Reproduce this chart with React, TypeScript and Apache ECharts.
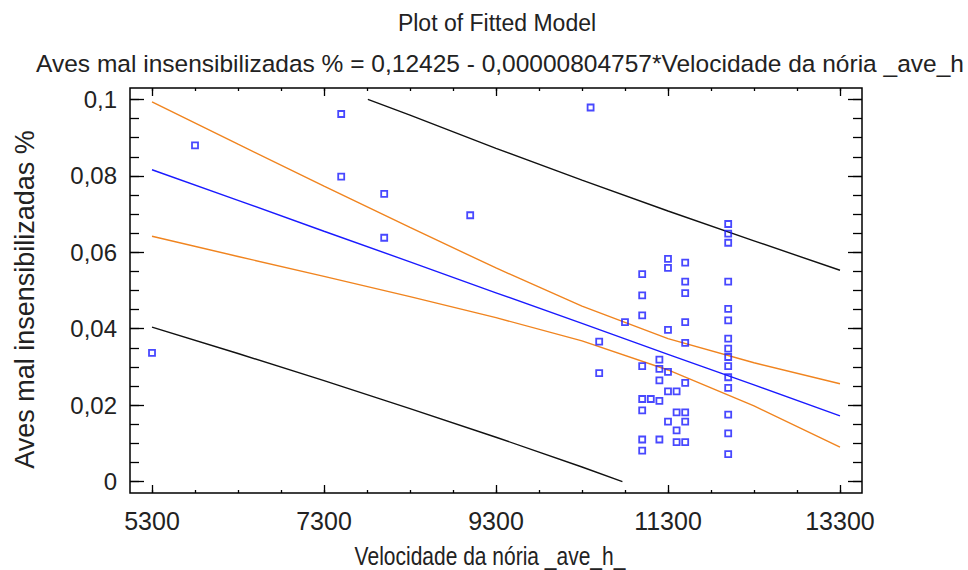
import React, { useEffect, useRef } from "react";
import * as echarts from "echarts";

// ---- Data ----
const xMajorTicks = [5300, 7300, 9300, 11300, 13300];
const xMinorTicks = [5300, 5800, 6300, 6800, 7300, 7800, 8300, 8800, 9300, 9800, 10300, 10800, 11300, 11800, 12300, 12800, 13300];
const yMajorTicks = [0, 0.02, 0.04, 0.06, 0.08, 0.1];
const yMinorTicks = [0, 0.005, 0.01, 0.015, 0.02, 0.025, 0.03, 0.035, 0.04, 0.045, 0.05, 0.055, 0.06, 0.065, 0.07, 0.075, 0.08, 0.085, 0.09, 0.095, 0.1];

// observations (Velocidade da nória, Aves mal insensibilizadas %)
const obsX = [
  5300, 5800, 7500, 7500, 8000, 8000, 9000, 10400, 10500, 10500, 10800,
  11000, 11000, 11000, 11000, 11000, 11000, 11000, 11000,
  11100,
  11200, 11200, 11200, 11200, 11200,
  11300, 11300, 11300, 11300, 11300, 11300,
  11400, 11400, 11400, 11400,
  11500, 11500, 11500, 11500, 11500, 11500, 11500, 11500, 11500,
  12000, 12000, 12000, 12000, 12000, 12000, 12000, 12000, 12000, 12000, 12000, 12000, 12000, 12000, 12000,
];
const obsY = [
  0.0337, 0.088, 0.0962, 0.0798, 0.0753, 0.0638, 0.0697, 0.0979, 0.0366, 0.0284, 0.0417,
  0.0543, 0.0487, 0.0435, 0.0302, 0.0216, 0.0186, 0.011, 0.0081,
  0.0216,
  0.0319, 0.0295, 0.0265, 0.0211, 0.011,
  0.0583, 0.0559, 0.0397, 0.0287, 0.0236, 0.0157,
  0.0236, 0.0181, 0.0134, 0.0103,
  0.0573, 0.0523, 0.0493, 0.0417, 0.0363, 0.0258, 0.0181, 0.0157, 0.0103,
  0.0674, 0.0649, 0.0625, 0.0523, 0.0452, 0.0422, 0.0374, 0.0348, 0.0326, 0.0302, 0.0273, 0.0245, 0.0175, 0.0126, 0.0072,
];

// fitted line and confidence limits
const bandX = [5300, 6300, 7300, 8300, 9300, 10300, 11300, 12300, 13300];
const fittedY = [0.0816, 0.0736, 0.0655, 0.0575, 0.0494, 0.0414, 0.0333, 0.0253, 0.0172];
const upperConfY = [0.0994, 0.0883, 0.0773, 0.0665, 0.0559, 0.0459, 0.0374, 0.0311, 0.0256];
const lowerConfY = [0.0642, 0.0589, 0.0537, 0.0484, 0.0429, 0.0368, 0.0292, 0.0198, 0.009];

// prediction limits
const upperPredX = [7810, 8300, 9300, 10300, 11300, 12300, 13300];
const upperPredY = [0.1, 0.0959, 0.0872, 0.0789, 0.0708, 0.063, 0.0553];
const lowerPredX = [5300, 6300, 7300, 8300, 9300, 10300, 10770];
const lowerPredY = [0.0404, 0.0335, 0.0264, 0.0191, 0.0116, 0.0038, 0.0];

const FONT = "'Liberation Sans', Arial, sans-serif";
const TEXT = "#222";

const pairs = (xs: number[], ys: number[]) => xs.map((x, i) => [x, ys[i]]);

export default function App() {
  const ref = useRef<HTMLDivElement>(null);
  useEffect(() => {
    if (!ref.current) return;
    const chart = echarts.init(ref.current, undefined, { renderer: "svg" });
    const xMin = 5044, xMax = 13556, yMin = -0.003, yMax = 0.103;
    const tickStyle = { color: "#000", width: 1.3 };
    const xBase = (position: "top" | "bottom", ticks: number[], len: number, labels: boolean) => ({
      type: "value" as const,
      position,
      min: xMin,
      max: xMax,
      axisLine: { show: false, onZero: false },
      splitLine: { show: false },
      axisTick: { show: true, inside: true, length: len, customValues: ticks, lineStyle: tickStyle },
      axisLabel: labels
        ? { show: true, customValues: ticks, fontFamily: FONT, fontSize: 25, color: TEXT, margin: 15, formatter: (v: number) => String(v) }
        : { show: false },
    });
    const yBase = (position: "left" | "right", ticks: number[], len: number, labels: boolean) => ({
      type: "value" as const,
      position,
      min: yMin,
      max: yMax,
      axisLine: { show: false, onZero: false },
      splitLine: { show: false },
      axisTick: { show: true, inside: true, length: len, customValues: ticks, lineStyle: tickStyle },
      axisLabel: labels
        ? {
            show: true,
            customValues: ticks,
            fontFamily: FONT,
            fontSize: 24,
            color: TEXT,
            margin: 13,
            formatter: (v: number) => (v === 0 ? "0" : String(v).replace(".", ",")),
          }
        : { show: false },
    });

    const xAxes: any[] = [
      xBase("bottom", xMajorTicks, 8, true),
      xBase("bottom", xMinorTicks, 3, false),
      xBase("top", xMajorTicks, 8, false),
      xBase("top", xMinorTicks, 3, false),
    ];
    const yAxes: any[] = [
      { ...yBase("left", yMajorTicks, 14, true), name: "Aves mal insensibilizadas %", nameLocation: "middle", nameGap: 92,
        nameTextStyle: { fontFamily: FONT, fontSize: 27, color: TEXT, padding: [0, 18, 0, 0] } },
      yBase("left", yMinorTicks, 9, false),
      yBase("right", yMajorTicks, 14, false),
      yBase("right", yMinorTicks, 9, false),
    ];

    chart.setOption({
      animation: false,
      backgroundColor: "#fff",
      title: [
        { text: "Plot of Fitted Model", left: 492, top: 6, textAlign: "center",
          textStyle: { fontFamily: FONT, fontSize: 23, fontWeight: "normal", color: TEXT } },
        { text: "Aves mal insensibilizadas % = 0,12425 - 0,00000804757*Velocidade da nória _ave_h", left: 495, top: 46, textAlign: "center",
          textStyle: { fontFamily: FONT, fontSize: 24.5, fontWeight: "normal", color: TEXT } },
      ],
      graphic: [
        {
          type: "text",
          x: 490,
          y: 556,
          scaleX: 0.84,
          style: {
            text: "Velocidade da nória _ave_h_",
            fontFamily: FONT,
            fontSize: 25,
            fill: TEXT,
            textAlign: "center",
            textVerticalAlign: "middle",
          },
        },
      ],
      grid: { left: 130, right: 106, top: 88, bottom: 77, show: true, borderColor: "#000", borderWidth: 1.5, backgroundColor: "#fff" },
      xAxis: xAxes,
      yAxis: yAxes,
      series: [
        { type: "line", data: pairs(upperPredX, upperPredY), showSymbol: false, lineStyle: { color: "#111", width: 1.4 }, z: 2 },
        { type: "line", data: pairs(lowerPredX, lowerPredY), showSymbol: false, lineStyle: { color: "#111", width: 1.4 }, z: 2 },
        { type: "line", data: pairs(bandX, upperConfY), showSymbol: false, lineStyle: { color: "#f0841f", width: 1.4 }, z: 2 },
        { type: "line", data: pairs(bandX, lowerConfY), showSymbol: false, lineStyle: { color: "#f0841f", width: 1.4 }, z: 2 },
        { type: "line", data: pairs(bandX, fittedY), showSymbol: false, lineStyle: { color: "#1a1aff", width: 1.4 }, z: 2 },
        {
          type: "scatter",
          data: pairs(obsX, obsY),
          symbol: "rect",
          symbolSize: [6, 6],
          itemStyle: { color: "rgba(255,255,255,0)", borderColor: "#1a1aff", borderWidth: 1.8 },
          z: 3,
        },
      ],
    });
    return () => chart.dispose();
  }, []);
  return <div ref={ref} style={{ position: "absolute", left: 0, top: 0, width: 968, height: 570 }} />;
}
